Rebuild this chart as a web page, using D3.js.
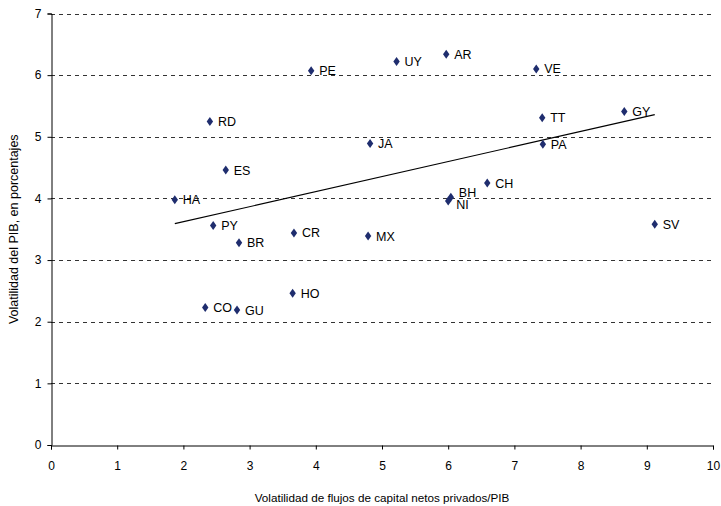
<!DOCTYPE html>
<html><head><meta charset="utf-8">
<script src="https://cdn.jsdelivr.net/npm/d3@7"></script>
<style>body{margin:0;background:#fff}svg{display:block}</style>
</head><body>
<script>
const codes = ["HA","RD","ES","PY","BR","CO","GU","HO","CR","PE","JA","MX","UY","AR","BH","NI","CH","VE","TT","PA","GY","SV"];
const flowVol = [1.87,2.40,2.64,2.45,2.84,2.33,2.81,3.65,3.67,3.93,4.82,4.79,5.22,5.97,6.04,6.00,6.59,7.33,7.42,7.43,8.66,9.12];
const gdpVol  = [3.98,5.25,4.46,3.56,3.28,2.23,2.19,2.46,3.44,6.07,4.89,3.39,6.22,6.34,4.02,3.96,4.25,6.10,5.31,4.88,5.41,3.58];
const trendX = [1.87, 9.12];
const trendY = [3.59, 5.36];
const xTicks = [0,1,2,3,4,5,6,7,8,9,10];
const yTicks = [0,1,2,3,4,5,6,7];
const xTitle = "Volatilidad de flujos de capital netos privados/PIB";
const yTitle = "Volatilidad del PIB, en porcentajes";

const W = 721, H = 506;
const m = {left:51, right:8, top:13.5, bottom:61};
const FONT = "'Liberation Sans', Arial, sans-serif";
const svg = d3.select("body").append("svg").attr("width",W).attr("height",H)
  .style("font-family",FONT);
const x = d3.scaleLinear().domain([0,10]).range([m.left, W-m.right]);
const y = d3.scaleLinear().domain([0,7]).range([H-m.bottom, m.top]);

// gridlines
svg.append("g").selectAll("line").data(yTicks.filter(d=>d>0)).join("line")
  .attr("x1", x(0)).attr("x2", x(10))
  .attr("y1", d=>Math.round(y(d))+0.5).attr("y2", d=>Math.round(y(d))+0.5)
  .attr("stroke","#333").attr("stroke-width",1).attr("stroke-dasharray","4,4");

// axes
const xAxis = svg.append("g").attr("transform",`translate(0,${Math.round(y(0))+0.5})`)
  .call(d3.axisBottom(x).tickValues(xTicks).tickSize(4).tickPadding(12).tickFormat(d3.format("d")));
const yAxis = svg.append("g").attr("transform",`translate(${Math.round(x(0))+0.5},0)`)
  .call(d3.axisLeft(y).tickValues(yTicks).tickSize(4).tickPadding(6).tickFormat(d3.format("d")));
[xAxis,yAxis].forEach(a=>{
  a.selectAll("text").attr("font-size",12).attr("fill","#000").attr("font-family",FONT);
  a.selectAll("line").attr("stroke","#000");
  a.select(".domain").attr("stroke","#000");
});

// trend line
svg.append("path")
  .datum(trendX.map((d,i)=>[d,trendY[i]]))
  .attr("d", d3.line().x(d=>x(d[0])).y(d=>y(d[1])))
  .attr("stroke","#000").attr("stroke-width",1.2).attr("fill","none");

// points
const pts = codes.map((c,i)=>({c, x:flowVol[i], y:gdpVol[i]}));
svg.append("g").selectAll("path").data(pts).join("path")
  .attr("transform", d=>`translate(${x(d.x)},${y(d.y)})`)
  .attr("d","M0,-4.5L3.2,0L0,4.5L-3.2,0Z")
  .attr("fill","#1f2d6e");
const labelShift = {BH:-5, NI:4};
svg.append("g").selectAll("text").data(pts).join("text")
  .attr("x", d=>x(d.x)+8).attr("y", d=>y(d.y)+(labelShift[d.c]||0))
  .attr("dy","0.36em")
  .attr("font-size",12.5).attr("fill","#000").text(d=>d.c);

// titles
svg.append("text").attr("x",(x(0)+x(10))/2).attr("y",502).attr("text-anchor","middle")
  .attr("font-size",11.7).text(xTitle);
svg.append("text").attr("transform",`translate(18,${(y(0)+y(7))/2}) rotate(-90)`)
  .attr("text-anchor","middle").attr("font-size",12.5).text(yTitle);
</script>
</body></html>
